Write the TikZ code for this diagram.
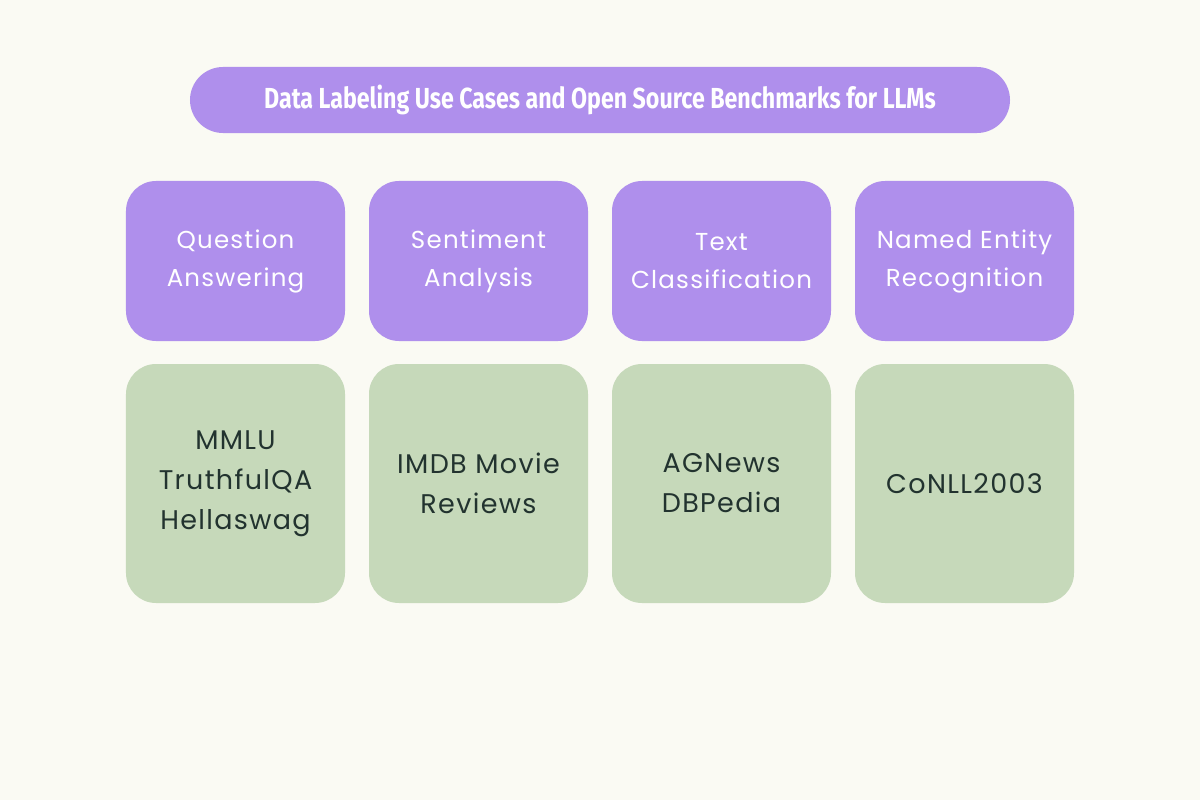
\documentclass[tikz,border=0pt]{standalone}
\usepackage{fontspec}
\setmainfont[LetterSpace=5]{Poppins}
\newfontfamily\titlefont[FakeStretch=0.8]{Fira Sans}
\definecolor{bg}{RGB}{250,250,243}
\definecolor{lilac}{RGB}{175,143,236}
\definecolor{sage}{RGB}{198,217,186}
\definecolor{ink}{RGB}{34,51,47}
\tikzset{
  titlebox/.style={fill=lilac, rounded corners=33bp, minimum width=820bp, minimum height=66bp, inner sep=0pt,
    text=white, font=\titlefont\bfseries\fontsize{29bp}{34bp}\selectfont},
  usecase/.style={fill=lilac, rounded corners=30bp, minimum width=219bp, minimum height=160bp, inner sep=0pt,
    text=white, align=center, font=\fontsize{24.5bp}{38bp}\selectfont},
  bench/.style={fill=sage, rounded corners=30bp, minimum width=219bp, minimum height=239bp, inner sep=0pt,
    text=ink, align=center, font=\fontsize{27bp}{40bp}\selectfont}
}
\begin{document}
\begin{tikzpicture}[x=1bp,y=-1bp]
\fill[bg] (0,0) rectangle (1200,800);
\useasboundingbox (0,0) rectangle (1200,800);
\node[titlebox] (title) at (600,100) {Data Labeling Use Cases and Open Source Benchmarks for LLMs};
\node[usecase] (qa) at (235.5,261) {Question\\Answering};
\node[usecase] (sa) at (478.5,261) {Sentiment\\Analysis};
\node[usecase] (tc) at (721.5,261) {Text\\Classification};
\node[usecase] (ner) at (964.5,261) {Named Entity\\Recognition};
\node[bench] (b1) at (235.5,483.5) {MMLU\\TruthfulQA\\Hellaswag};
\node[bench] (b2) at (478.5,483.5) {IMDB Movie\\Reviews};
\node[bench] (b3) at (721.5,483.5) {AGNews\\DBPedia};
\node[bench] (b4) at (964.5,483.5) {CoNLL2003};
\end{tikzpicture}
\end{document}
